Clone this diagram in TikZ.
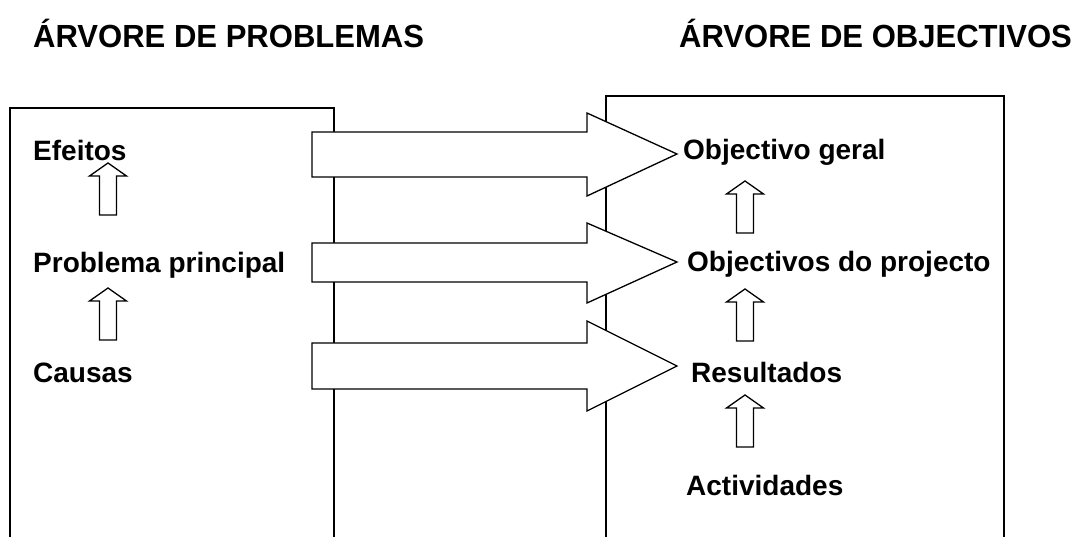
\documentclass[tikz,border=0pt]{standalone}
\usepackage{fontspec}
\setmainfont{Liberation Sans}
\newfontfamily\treeTitleFont[FakeStretch=0.97]{Liberation Sans Bold}
\newfontfamily\treeLabelFont{Liberation Sans Bold}
\newcommand{\treeUpArrow}[2]{\draw[blk] (#1,#2) -- (#1+18.5,#2+13) -- (#1+8.5,#2+13) -- (#1+8.5,#2+52) -- (#1-8.5,#2+52) -- (#1-8.5,#2+13) -- (#1-18.5,#2+13) -- cycle;}
\newcommand{\treeBigArrow}[5]{\draw[blk] (312,#1) -- (587,#1) -- (587,#3) -- (677,#5) -- (587,#4) -- (587,#2) -- (312,#2) -- cycle;}

\begin{document}
\begin{tikzpicture}[x=1pt,y=-1pt,
  blk/.style={draw=black, fill=white, line width=1.3pt, line join=miter},
  frame/.style={draw=black, line width=1.3pt},
  ttl/.style={anchor=base west, inner sep=0pt, font={\treeTitleFont\fontsize{32}{36}\selectfont}},
  lbl/.style={anchor=base west, inner sep=0pt, font={\treeLabelFont\fontsize{28}{32}\selectfont}}]
\useasboundingbox (0,0) rectangle (1072,537);
\node[ttl] (titleP) at (33,48) {ÁRVORE DE PROBLEMAS};
\node[ttl] (titleO) at (679,48) {ÁRVORE DE OBJECTIVOS};
\draw[frame] (10,537) -- (10,108) -- (334,108) -- (334,537);
\draw[frame] (606,537) -- (606,96) -- (1004,96) -- (1004,537);
\treeBigArrow{132}{177}{113}{196}{154}
\treeBigArrow{243}{282}{223}{303}{262}
\treeBigArrow{343}{389}{321}{411}{366}
\node[lbl] (efeitos) at (33,161) {Efeitos};
\node[lbl] (problema) at (33,273) {Problema principal};
\node[lbl] (causas) at (33,383) {Causas};
\node[lbl] (geral) at (683,160) {Objectivo geral};
\node[lbl] (projecto) at (687,272) {Objectivos do projecto};
\node[lbl] (resultados) at (691,383) {Resultados};
\node[lbl] (actividades) at (686,495) {Actividades};
\treeUpArrow{108}{163}
\treeUpArrow{108}{288}
\treeUpArrow{745}{181}
\treeUpArrow{745}{289}
\treeUpArrow{745}{395}
\end{tikzpicture}
\end{document}
